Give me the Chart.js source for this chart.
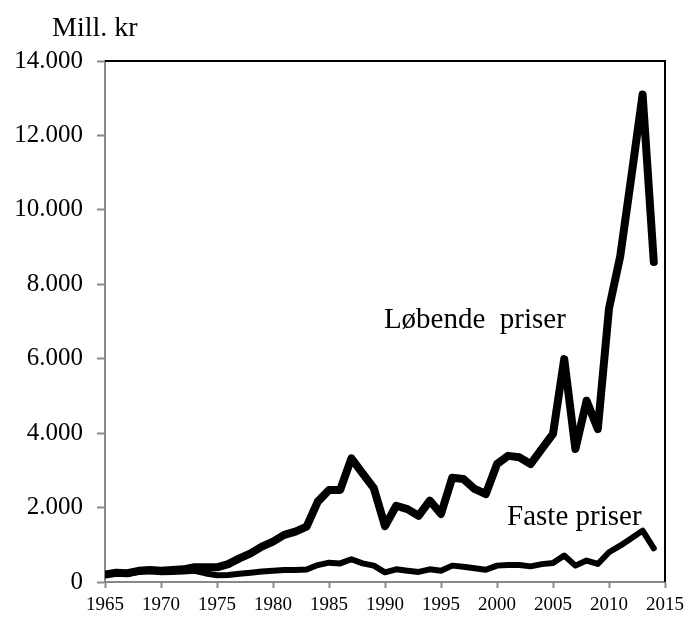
<!DOCTYPE html>
<html>
<head>
<meta charset="utf-8">
<script src="https://cdn.jsdelivr.net/npm/chart.js@4"></script>
<style>
  html, body { margin: 0; padding: 0; background: #fff; }
  #wrap { width: 690px; height: 617px; }
</style>
</head>
<body>
<div id="wrap"><canvas id="chartPriser"></canvas></div>
<script>
// data
var years = [1965, 1966, 1967, 1968, 1969, 1970, 1971, 1972, 1973, 1974,
    1975, 1976, 1977, 1978, 1979, 1980, 1981, 1982, 1983, 1984,
    1985, 1986, 1987, 1988, 1989, 1990, 1991, 1992, 1993, 1994,
    1995, 1996, 1997, 1998, 1999, 2000, 2001, 2002, 2003, 2004,
    2005, 2006, 2007, 2008, 2009, 2010, 2011, 2012, 2013, 2014];
var lobende = [200, 250, 235, 300, 320, 300, 320, 340, 395, 395,
    395, 480, 635, 770, 950, 1085, 1265, 1355, 1490, 2160,
    2475, 2475, 3325, 2920, 2520, 1500, 2050, 1960, 1780, 2185,
    1830, 2800, 2770, 2500, 2365, 3170, 3390, 3350, 3170, 3575,
    3980, 5990, 3575, 4870, 4110, 7350, 8750, 10900, 13100, 8600];
var faste = [190, 240, 220, 270, 290, 260, 270, 280, 300, 230,
    180, 190, 220, 250, 280, 305, 320, 320, 335, 455,
    520, 500, 610, 500, 440, 260, 340, 305, 270, 340,
    305, 440, 410, 370, 330, 440, 455, 455, 420, 480,
    510, 710, 440, 575, 485, 800, 975, 1175, 1380, 905];
var xTicks = [1965, 1970, 1975, 1980, 1985, 1990, 1995, 2000, 2005, 2010, 2015];

var serif = "'Liberation Serif', 'Times New Roman', serif";
var axisGrey = "#888888";

function toPoints(vals) {
    return years.map(function (y, i) { return { x: y, y: vals[i] }; });
}
function fmt(v) {
    return String(v).replace(/\B(?=(\d{3})+(?!\d))/g, ".");
}

// black frame top + right, and the texts
var frameAndText = {
    id: "frameAndText",
    beforeDatasetsDraw: function (chart) {
        var a = chart.chartArea, c = chart.ctx;
        c.save();
        c.strokeStyle = "#000";
        c.lineWidth = 2;
        c.beginPath();
        c.moveTo(a.left, a.top);
        c.lineTo(a.right, a.top);
        c.lineTo(a.right, a.bottom);
        c.stroke();
        c.restore();
    },
    afterDraw: function (chart) {
        var c = chart.ctx, xs = chart.scales.x, ys = chart.scales.y;
        c.save();
        c.fillStyle = "#000";
        c.textBaseline = "alphabetic";
        c.textAlign = "left";
        c.font = "28px " + serif;
        c.fillText("Mill. kr", 52, 36);
        c.font = "29px " + serif;
        c.fillText("Løbende  priser", xs.getPixelForValue(1989.9), ys.getPixelForValue(6830));
        c.fillText("Faste priser", xs.getPixelForValue(2000.9), ys.getPixelForValue(1540));
        c.restore();
    }
};

var ctx = document.getElementById("chartPriser").getContext("2d");
var chartPriser = new Chart(ctx, {
    type: "line",
    data: {
        datasets: [
            {
                label: "Løbende priser",
                data: toPoints(lobende),
                borderColor: "#000",
                borderWidth: 8,
                pointRadius: 0,
                tension: 0,
                borderCapStyle: "round",
                borderJoinStyle: "round",
            },
            {
                label: "Faste priser",
                data: toPoints(faste),
                borderColor: "#000",
                borderWidth: 6,
                pointRadius: 0,
                tension: 0,
                borderCapStyle: "round",
                borderJoinStyle: "round",
            },
        ],
    },
    options: {
        responsive: true,
        maintainAspectRatio: false,
        animation: false,
        layout: { padding: { top: 61, right: 20, left: 0, bottom: 0 } },
        plugins: {
            legend: { display: false },
            tooltip: { enabled: false },
        },
        scales: {
            x: {
                type: "linear",
                min: 1965,
                max: 2015,
                afterBuildTicks: function (axis) {
                    axis.ticks = xTicks.map(function (v) { return { value: v }; });
                },
                afterFit: function (axis) { axis.height = 35; },
                border: { display: true, color: axisGrey, width: 2 },
                grid: {
                    drawOnChartArea: false,
                    drawTicks: true,
                    tickLength: 6,
                    tickColor: axisGrey,
                    tickWidth: 2,
                },
                ticks: {
                    autoSkip: false,
                    maxRotation: 0,
                    padding: 6,
                    color: "#000",
                    font: { family: serif, size: 19 },
                    callback: function (v) { return String(v); },
                },
            },
            y: {
                min: 0,
                max: 14000,
                afterFit: function (axis) { axis.width = 105; },
                border: { display: true, color: axisGrey, width: 2 },
                grid: {
                    drawOnChartArea: false,
                    drawTicks: true,
                    tickLength: 8,
                    tickColor: axisGrey,
                    tickWidth: 2,
                },
                ticks: {
                    stepSize: 2000,
                    padding: 14,
                    color: "#000",
                    font: { family: serif, size: 25 },
                    callback: function (v) { return fmt(v); },
                },
            },
        },
    },
    plugins: [frameAndText],
});
</script>
</body>
</html>
